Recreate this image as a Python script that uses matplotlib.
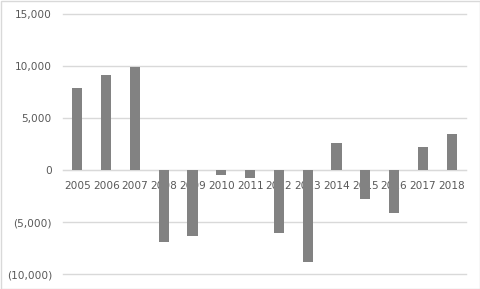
import matplotlib
matplotlib.use("Agg")
import matplotlib.pyplot as plt
from matplotlib.patches import Rectangle
from matplotlib.ticker import FuncFormatter

years = ["2005", "2006", "2007", "2008", "2009", "2010", "2011",
         "2012", "2013", "2014", "2015", "2016", "2017", "2018"]
values = [7900, 9130, 9900, -6920, -6350, -480, -770,
          -6060, -8850, 2600, -2790, -4130, 2210, 3460]
yticks = [-10000, -5000, 0, 5000, 10000, 15000]

fig = plt.figure(figsize=(4.81, 2.89), dpi=100)
ax = fig.add_axes([63/481, 15/289, (466-63)/481, (275-15)/289])

x = list(range(len(years)))
ax.bar(x, values, width=0.35, color="#828282", zorder=3)

ax.set_xlim(-0.5, len(years) - 0.5)
ax.set_ylim(-10000, 15000)
ax.set_yticks(yticks)
ax.yaxis.set_major_formatter(FuncFormatter(
    lambda v, p: "0" if v == 0 else (f"{v:,.0f}" if v > 0 else f"({-v:,.0f})")))
ax.grid(axis="y", color="#d9d9d9", linewidth=1, zorder=0)
for gl in ax.get_ygridlines():
    gl.set_clip_on(False)
ax.set_xticks(x)
ax.set_xticklabels(years)

for s in ["top", "right", "left"]:
    ax.spines[s].set_visible(False)
ax.spines["bottom"].set_position(("data", 0))
ax.spines["bottom"].set_color("#d9d9d9")
ax.spines["bottom"].set_zorder(2)

ax.tick_params(axis="x", length=0, pad=8, labelsize=7.6, labelcolor="#595959")
ax.tick_params(axis="y", length=0, pad=8, labelsize=7.6, labelcolor="#595959")

fig.patches.append(Rectangle((0.5/481, 0.5/289), 1 - 1/481, 1 - 1/289,
                             transform=fig.transFigure, fill=False,
                             edgecolor="#d9d9d9", linewidth=1))

fig.savefig("out.png", dpi=100)
